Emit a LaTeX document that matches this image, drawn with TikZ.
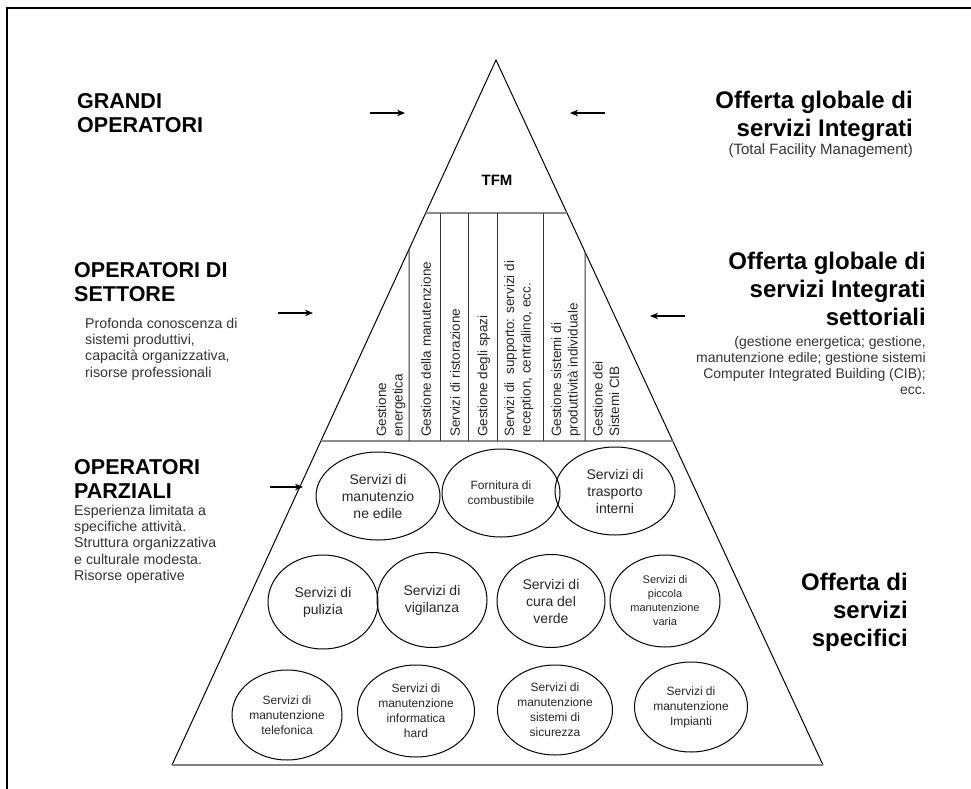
\documentclass[tikz,border=0pt]{standalone}
\usepackage{fontspec}
\setmainfont{Liberation Sans}
\usetikzlibrary{arrows.meta,shapes.geometric}
\begin{document}
\begin{tikzpicture}[x=1pt,y=-1pt,
  lefttitle/.style={font=\bfseries\fontsize{21.5}{24.5}\selectfont, align=left, anchor=north west, inner sep=0pt},
  righttitle/.style={font=\bfseries\fontsize{24}{28}\selectfont, align=right, anchor=north east, inner sep=0pt},
  desc/.style={font=\fontsize{14.2}{16.2}\selectfont, align=left, anchor=north west, inner sep=0pt, text=black!80},
  rdesc/.style={font=\fontsize{14}{16}\selectfont, align=right, anchor=north east, inner sep=0pt, text=black!80},
  vtext/.style={rotate=90, anchor=west, align=left, inner sep=0pt, font=\fontsize{13.5}{16.5}\selectfont, text=black!85},
  oval/.style={ellipse, draw, line width=1pt, inner sep=0pt, align=center, text=black!85},
  arr/.style={-{Stealth[length=8pt,width=6.5pt]}, line width=1.1pt},
  divider/.style={draw=black!45, line width=1.6pt},
  vline/.style={draw=black!80, line width=1pt}]
\useasboundingbox (0,0) rectangle (971,789);
% frame
\draw[line width=2pt] (7,789) -- (7,8) -- (971,8);
% pyramid
\coordinate (apex) at (496,60);
\coordinate (bl) at (172,765);
\coordinate (br) at (823,765);
\draw[line width=1pt] (bl) -- (apex) -- (br);
\draw[draw=black!50, line width=2.5pt] (bl) -- (br);
% dividers
\coordinate (t1) at (intersection of apex--bl and 0,213--900,213);
\coordinate (t2) at (intersection of apex--br and 0,213--900,213);
\coordinate (m1) at (intersection of apex--bl and 0,441--900,441);
\coordinate (m2) at (intersection of apex--br and 0,441--900,441);
\draw[divider] (t1) -- (t2);
\draw[divider] (m1) -- (m2);
\node[font=\bfseries\fontsize{15}{18}\selectfont, inner sep=0pt] (tfm) at (497,180) {TFM};
% vertical lines
\coordinate (v1t) at (intersection of apex--bl and 409,0--409,800);
\coordinate (v1b) at (409,441);
\coordinate (v2t) at (440,213); \coordinate (v2b) at (440,441);
\coordinate (v3t) at (468,213); \coordinate (v3b) at (468,441);
\coordinate (v4t) at (497,213); \coordinate (v4b) at (497,441);
\coordinate (v5t) at (543,213); \coordinate (v5b) at (543,441);
\coordinate (v6t) at (intersection of apex--br and 585,0--585,800);
\coordinate (v6b) at (585,441);
\foreach \i in {1,...,6} {\draw[vline] (v\i t) -- (v\i b);}
% vertical texts
\node[vtext] (g1) at (391,437) {Gestione\\energetica};
\node[vtext] (g2) at (426,437) {Gestione della manutenzione};
\node[vtext] (g3) at (455,437) {Servizi di ristorazione};
\node[vtext] (g4) at (484,437) {Gestione degli spazi};
\node[vtext] (g5) at (519,437) {Servizi di\ \ supporto: servizi di\\reception, centralino, ecc.};
\node[vtext] (g6) at (566,437) {Gestione sistemi di\\produttività individuale};
\node[vtext] (g7) at (606,437) {Gestione dei\\Sistemi CIB};
% left texts
\node[lefttitle] (grandi) at (77,93) {GRANDI\\OPERATORI};
\node[lefttitle] (settore) at (74,262) {OPERATORI DI\\SETTORE};
\node[desc] (settored) at (85,318) {Profonda conoscenza di\\sistemi produttivi,\\capacità organizzativa,\\risorse professionali};
\node[lefttitle] (parziali) at (74,459) {OPERATORI\\PARZIALI};
\node[desc] (parzialid) at (74,505) {Esperienza limitata a\\specifiche attività.\\Struttura organizzativa\\e culturale modesta.\\Risorse operative};
% right texts
\node[righttitle] (tfmt) at (913,91) {Offerta globale di\\servizi Integrati};
\node[font=\fontsize{15}{18}\selectfont, anchor=north east, inner sep=0pt, text=black!80] (tfmd) at (913,143) {(Total Facility Management)};
\node[righttitle] (sett) at (926,252) {Offerta globale di\\servizi Integrati\\settoriali};
\node[rdesc] (settd) at (926,336) {(gestione energetica; gestione,\\manutenzione edile; gestione sistemi\\Computer Integrated Building (CIB);\\ecc.};
\node[righttitle] (spec) at (908,573) {Offerta di\\servizi\\specifici};
% arrows
\coordinate (a1s) at (370,113); \coordinate (a1e) at (405,113);
\coordinate (a2s) at (605,113); \coordinate (a2e) at (570,113);
\coordinate (a3s) at (278,313); \coordinate (a3e) at (313,313);
\coordinate (a4s) at (685,316); \coordinate (a4e) at (650,316);
\coordinate (a5s) at (270,487); \coordinate (a5e) at (303,487);
\foreach \i in {1,...,5} {\draw[arr] (a\i s) -- (a\i e);}
% ellipses
\node[oval, minimum width=124pt, minimum height=88pt, font=\fontsize{14}{17}\selectfont] (e1) at (378,496) {Servizi di\\manutenzio\\ne edile};
\node[oval, minimum width=118pt, minimum height=88pt, font=\fontsize{12}{15}\selectfont] (e2) at (501,493) {Fornitura di\\combustibile};
\node[oval, minimum width=120pt, minimum height=88pt, font=\fontsize{14}{17}\selectfont] (e3) at (615,491) {Servizi di\\trasporto\\interni};
\node[oval, minimum width=110pt, minimum height=94pt, font=\fontsize{14}{17}\selectfont] (e4) at (323,602) {Servizi di\\pulizia};
\node[oval, minimum width=110pt, minimum height=95pt, font=\fontsize{14}{17}\selectfont] (e5) at (432,600) {Servizi di\\vigilanza};
\node[oval, minimum width=108pt, minimum height=93pt, font=\fontsize{14}{17}\selectfont] (e6) at (551,601) {Servizi di\\cura del\\verde};
\node[oval, minimum width=110pt, minimum height=92pt, font=\fontsize{11}{14}\selectfont] (e7) at (665,601) {Servizi di\\piccola\\manutenzione\\varia};
\node[oval, minimum width=110pt, minimum height=90pt, font=\fontsize{12}{15}\selectfont] (e8) at (287,715) {Servizi di\\manutenzione\\telefonica};
\node[oval, minimum width=117pt, minimum height=92pt, font=\fontsize{12}{15}\selectfont] (e9) at (416,711) {Servizi di\\manutenzione\\informatica\\hard};
\node[oval, minimum width=115pt, minimum height=90pt, font=\fontsize{12}{15}\selectfont] (e10) at (555,710) {Servizi di\\manutenzione\\sistemi di\\sicurezza};
\node[oval, minimum width=113pt, minimum height=90pt, font=\fontsize{12}{15}\selectfont] (e11) at (691,707) {Servizi di\\manutenzione\\Impianti};
\end{tikzpicture}
\end{document}
